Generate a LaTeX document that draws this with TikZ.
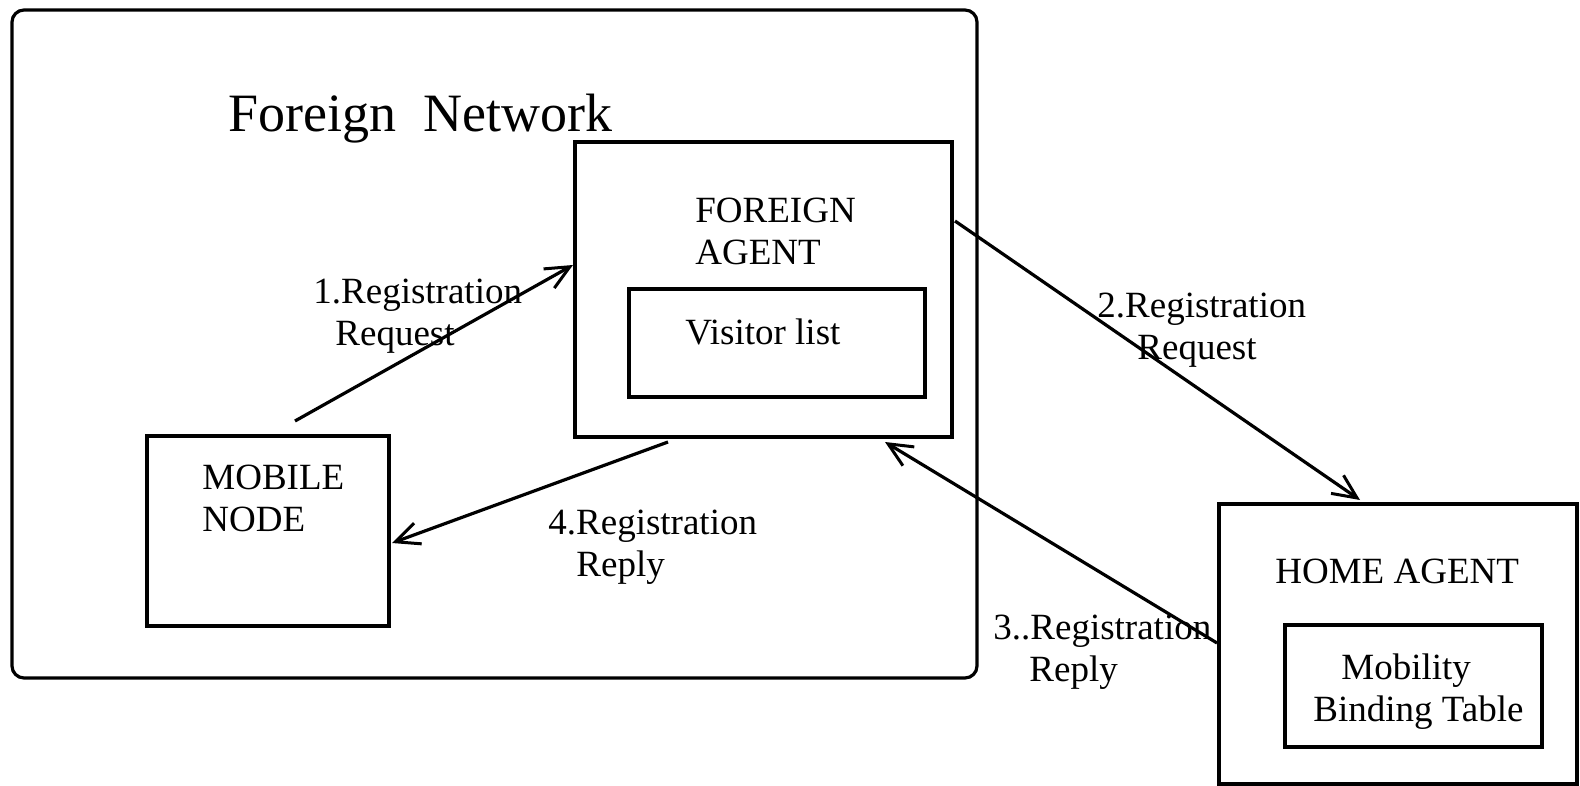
\documentclass[tikz,border=0pt]{standalone}
\usepackage{fontspec}
\setmainfont{Liberation Serif}
\usetikzlibrary{arrows.meta,calc,fit}
\begin{document}
\begin{tikzpicture}[x=0.5pt,y=-0.5pt,
  box/.style={draw,line width=2pt,inner sep=0pt},
  lbl/.style={inner sep=0pt,anchor=north west,align=left,font=\fontsize{18.5}{21}\selectfont},
  conn/.style={line width=1.6pt,-{Straight Barb[length=12pt,width=11pt,line width=1.5pt]}}]
\useasboundingbox (0,0) rectangle (1580,786);
% outer network area
\node[draw,line width=1.6pt,rounded corners=6pt,inner sep=0pt,fit={(12,10) (977,678)}] (net) {};
\node[inner sep=0pt,anchor=north west,font=\fontsize{27}{30}\selectfont] (title) at (228,94) {Foreign\hspace{0.5em}Network};
% boxes
\node[box,fit={(575,142) (952,437)}] (fa) {};
\node[box,fit={(629,289) (925,397)}] (vl) {};
\node[box,fit={(147,436) (389,626)}] (mn) {};
\node[box,fit={(1219,504) (1577,784)}] (ha) {};
\node[box,fit={(1285,625) (1542,747)}] (mbt) {};
% box texts
\node[lbl] (fat) at (695,198) {FOREIGN\\AGENT};
\node[lbl] (vlt) at (685,318) {Visitor list};
\node[lbl] (mnt) at (202,465) {MOBILE\\NODE};
\node[lbl] (hat) at (1275,559) {HOME AGENT};
\node[lbl] (mbtt) at (1313,653) {\hspace{14pt}Mobility\\Binding Table};
% connectors
\coordinate (a1s) at ($(mn.north west)+(150,-13)$);
\draw[conn] (a1s) -- ($(fa.north west)+(0,125)$);
\draw[conn] ($(fa.north east)+(1,81)$) -- ($(ha.north west)+(143,-2)$);
\draw[conn] ($(ha.north west)+(0,141)$) -- ($(fa.south west)+(312,3)$);
\draw[conn] ($(fa.south west)+(95,3)$) -- ($(mn.north east)+(1,109)$);
% connector labels
\node[lbl] (l1) at (313,279) {1.Registration\\\hspace{11pt}Request};
\node[lbl] (l2) at (1097,293) {2.Registration\\\hspace{20pt}Request};
\node[lbl] (l3) at (993,615) {3..Registration\\\hspace{18pt}Reply};
\node[lbl] (l4) at (548,510) {4.Registration\\\hspace{14pt}Reply};
\end{tikzpicture}
\end{document}
